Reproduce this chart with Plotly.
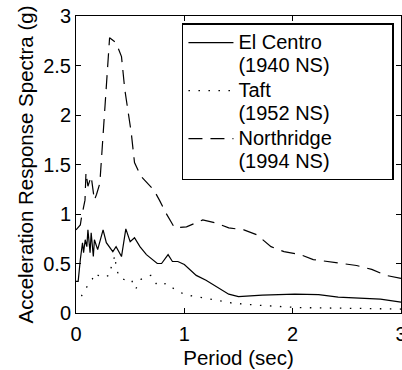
import plotly.graph_objects as go

# ---- data ----
elcentro_x = [0, 0.02, 0.04, 0.06, 0.07, 0.085, 0.10, 0.11, 0.13, 0.14, 0.16, 0.17, 0.20, 0.22, 0.25,
              0.28, 0.31, 0.34, 0.37, 0.40, 0.42, 0.46, 0.50, 0.54, 0.59, 0.65, 0.69, 0.75, 0.79, 0.85,
              0.89, 0.94, 1.00, 1.11, 1.20, 1.29, 1.41, 1.50, 1.72, 2.02, 2.24, 2.42, 2.63, 2.81, 3.0]
elcentro_y = [0.32, 0.32, 0.54, 0.71, 0.61, 0.74, 0.67, 0.84, 0.61, 0.81, 0.57, 0.74, 0.64, 0.71, 0.84,
              0.71, 0.67, 0.62, 0.67, 0.60, 0.57, 0.85, 0.72, 0.76, 0.67, 0.59, 0.55, 0.50, 0.50, 0.59,
              0.52, 0.52, 0.49, 0.38, 0.33, 0.27, 0.19, 0.165, 0.18, 0.19, 0.185, 0.16, 0.15, 0.14, 0.11]

taft_x = [0.05, 0.083, 0.12, 0.15, 0.17, 0.24, 0.31, 0.33, 0.36, 0.37, 0.40, 0.46, 0.51, 0.55, 0.60,
          0.69, 0.75, 0.84, 0.92, 1.02, 1.12, 1.22, 1.32, 1.44, 1.66, 1.87, 2.05, 2.36, 2.70, 3.0]
taft_y = [0.17, 0.24, 0.29, 0.34, 0.40, 0.36, 0.38, 0.49, 0.58, 0.46, 0.36, 0.33, 0.34, 0.24, 0.34,
          0.38, 0.28, 0.30, 0.23, 0.18, 0.165, 0.145, 0.12, 0.10, 0.08, 0.07, 0.055, 0.05, 0.045, 0.04]

northridge_x = [0, 0.04, 0.05, 0.083, 0.092, 0.11, 0.14, 0.17, 0.19, 0.22, 0.31, 0.37, 0.42, 0.45, 0.51,
                0.54, 0.60, 0.72, 0.77, 0.83, 0.91, 1.02, 1.17, 1.29, 1.41, 1.55, 1.67, 1.80, 1.92, 2.07,
                2.19, 2.33, 2.45, 2.59, 2.73, 2.86, 3.0]
northridge_y = [0.84, 0.89, 0.96, 1.14, 1.42, 1.28, 1.38, 1.14, 1.20, 1.31, 2.78, 2.73, 2.59, 2.26, 1.82,
                1.52, 1.38, 1.24, 1.14, 1.01, 0.86, 0.87, 0.94, 0.91, 0.86, 0.84, 0.79, 0.67, 0.62, 0.59,
                0.54, 0.52, 0.50, 0.48, 0.44, 0.38, 0.35]

series_names = [("El Centro", "(1940 NS)"), ("Taft", "(1952 NS)"), ("Northridge", "(1994 NS)")]

x_tickvals = [0, 1, 2, 3]
x_ticktext = ["0", "1", "2", "3"]
y_tickvals = [0, 0.5, 1, 1.5, 2, 2.5, 3]
y_ticktext = ["0", "0.5", "1", "1.5", "2", "2.5", "3"]

FONT = "Liberation Sans, Arial, Helvetica, sans-serif"
FS = 20
TFS = 20.5
PAD = "\u00a0" * 10


def legend_label(parts):
    return "<br>".join('<span style="font-size:%dpx">%s%s</span>' % (FS, p, PAD) for p in parts)


fig = go.Figure()
fig.add_trace(go.Scatter(x=elcentro_x, y=elcentro_y, mode="lines", name=legend_label(series_names[0]),
                         line=dict(color="black", width=1.2)))
fig.add_trace(go.Scatter(x=taft_x, y=taft_y, mode="lines", name=legend_label(series_names[1]),
                         line=dict(color="black", width=1.3, dash="1.5px,8.5px")))
fig.add_trace(go.Scatter(x=northridge_x, y=northridge_y, mode="lines", name=legend_label(series_names[2]),
                         line=dict(color="black", width=1.2, dash="14px,8px")))

axis_common = dict(showline=True, linecolor="black", linewidth=1, mirror="ticks", ticks="inside",
                   ticklen=5, tickcolor="black", showgrid=False, zeroline=False, automargin=False,
                   tickfont=dict(family=FONT, size=FS, color="black"))

fig.update_xaxes(range=[0, 3], tickvals=x_tickvals, ticktext=x_ticktext,
                 ticklabelstandoff=3, ticklabeloverflow="allow",
                 title=dict(text="Period (sec)", font=dict(family=FONT, size=TFS, color="black"), standoff=6),
                 **axis_common)
fig.update_yaxes(range=[0, 3], tickvals=y_tickvals, ticktext=y_ticktext,
                 title=dict(text="Acceleration Response Spectra (g)", font=dict(family=FONT, size=TFS, color="black"), standoff=4),
                 **axis_common)

fig.update_layout(
    width=402, height=370,
    margin=dict(l=76, r=1, t=16, b=57),
    plot_bgcolor="white", paper_bgcolor="white",
    font=dict(family=FONT, size=FS, color="black"),
    legend=dict(x=0.326, y=0.975, xanchor="left", yanchor="top", valign="top",
                bgcolor="white", bordercolor="black", borderwidth=1.5, itemwidth=45,
                font=dict(family=FONT, size=17.3, color="black"), tracegroupgap=0),
)

fig.write_html("out.html", config={"displayModeBar": False},
               post_script="document.body.style.margin='0px';")
